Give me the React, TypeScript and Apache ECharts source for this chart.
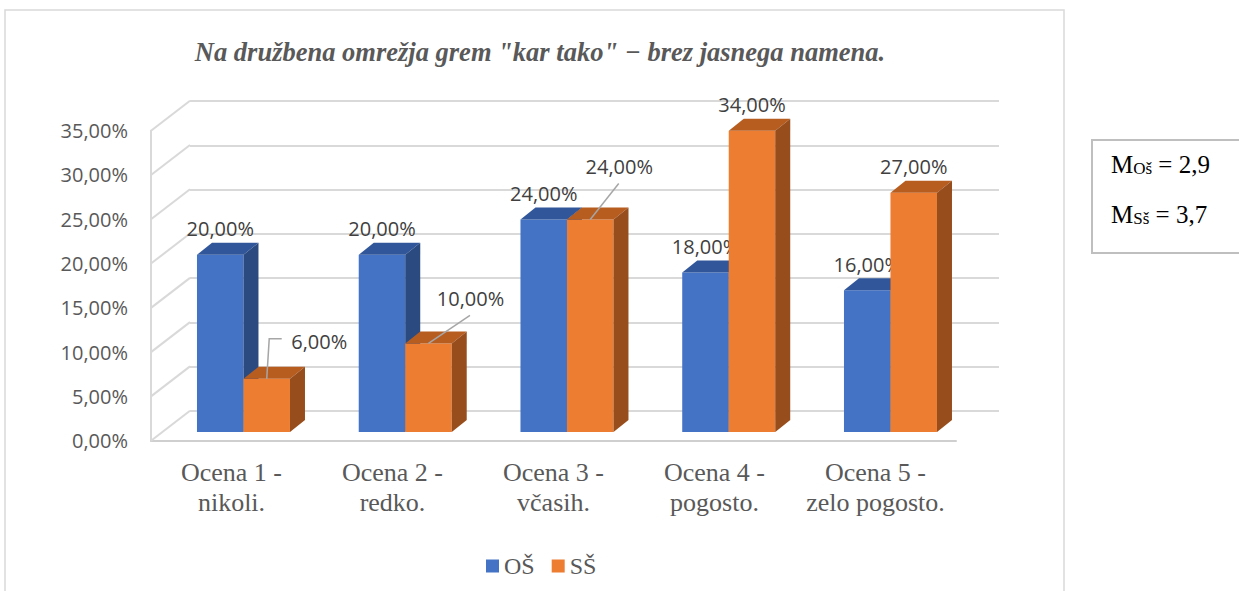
import React, { useEffect, useRef } from "react";
import * as echarts from "echarts";

const titleText = 'Na družbena omrežja grem "kar tako" \u2212 brez jasnega namena.';
const categories = [
  "Ocena 1 -\nnikoli.",
  "Ocena 2 -\nredko.",
  "Ocena 3 -\nvčasih.",
  "Ocena 4 -\npogosto.",
  "Ocena 5 -\nzelo pogosto.",
];
const seriesNames = ["OŠ", "SŠ"];
const osValues = [20, 20, 24, 18, 16];
const ssValues = [6, 10, 24, 34, 27];
const yTicks = [0, 5, 10, 15, 20, 25, 30, 35];
const meanOS = "2,9";
const meanSS = "3,7";

// styling / layout (not data)
const BAR_W = 46.5;
const DEPTH = [15, -12];
const WALL = [39, -30];
const LABEL_FONT = "'Open Sans', 'Noto Sans', sans-serif";
const SERIF = "'Liberation Serif', 'Times New Roman', serif";
const COLORS = [
  { front: "#4472C4", top: "#31579A", side: "#2A4A80" },
  { front: "#ED7D31", top: "#B85D20", side: "#984D1C" },
];
// custom label placements for SŠ (relative to front-top-centre of bar)
const ssLabelPlacement: any[] = [
  { pts: [[0, 0], [2.5, -40], [15, -40]], at: [52.5, -37] },
  { pts: [[0, 0], [41.5, -28]], at: [42, -45] },
  { pts: [[0, 0], [28.5, -36]], at: [29, -53] },
  null,
  null,
];

const fmt = (v: number) => v.toFixed(2).replace(".", ",") + "%";

function barRenderer(seriesIdx: number, placements: any[] | null) {
  return (params: any, api: any) => {
    const idx = api.value(0);
    const val = api.value(1);
    const top = api.coord([idx, val]);
    const base = api.coord([idx, 0]);
    const x0 = seriesIdx === 0 ? base[0] - BAR_W : base[0];
    const yT = top[1];
    const yB = base[1];
    const [dx, dy] = DEPTH;
    const c = COLORS[seriesIdx];
    const children: any[] = [
      {
        type: "rect",
        shape: { x: x0, y: yT, width: BAR_W, height: yB - yT },
        style: { fill: c.front },
      },
      {
        type: "polygon",
        shape: {
          points: [
            [x0, yT],
            [x0 + dx, yT + dy],
            [x0 + BAR_W + dx, yT + dy],
            [x0 + BAR_W, yT],
          ],
        },
        style: { fill: c.top },
      },
      {
        type: "polygon",
        shape: {
          points: [
            [x0 + BAR_W, yT],
            [x0 + BAR_W + dx, yT + dy],
            [x0 + BAR_W + dx, yB + dy],
            [x0 + BAR_W, yB],
          ],
        },
        style: { fill: c.side },
      },
    ];
    const fx = x0 + BAR_W / 2;
    const pl = placements ? placements[params.dataIndex] : null;
    let lx = fx;
    let ly = yT - 26;
    if (pl) {
      children.push({
        type: "polyline",
        shape: { points: pl.pts.map((p: number[]) => [fx + p[0], yT + p[1]]) },
        style: { stroke: "#A6A6A6", lineWidth: 1.5, fill: "none" },
        z2: 5,
      });
      lx = fx + pl.at[0];
      ly = yT + pl.at[1];
    }
    children.push({
      type: "text",
      x: lx,
      y: ly,
      z2: 10,
      style: {
        text: fmt(val),
        fill: "#404040",
        font: `20px ${LABEL_FONT}`,
        align: "center",
        verticalAlign: "middle",
      },
    });
    return { type: "group", children };
  };
}

export default function App() {
  const ref = useRef<HTMLDivElement>(null);
  useEffect(() => {
    if (!ref.current) return;
    const chart = echarts.init(ref.current, null, { renderer: "svg" });
    const gridLine = { color: "#D9D9D9", width: 2 };
    const meanRich = {
      m: { fontFamily: SERIF, fontSize: 25, lineHeight: 25, fill: "#000", verticalAlign: "bottom" },
      s: { fontFamily: SERIF, fontSize: 17, lineHeight: 19, fill: "#000", verticalAlign: "bottom" },
    };
    const option: any = {
      animation: false,
      backgroundColor: "#ffffff",
      title: {
        text: titleText,
        left: 535,
        top: 33,
        textAlign: "center",
        textStyle: {
          fontFamily: SERIF,
          fontStyle: "italic",
          fontWeight: "bold",
          fontSize: 26.5,
          color: "#595959",
        },
      },
      legend: {
        data: seriesNames,
        left: 481,
        top: 549,
        icon: "rect",
        itemWidth: 13,
        itemHeight: 13,
        itemGap: 17,
        textStyle: { fontFamily: SERIF, fontSize: 24, color: "#595959" },
      },
      grid: [
        { left: 162.6, width: 808.75, top: 122, height: 310 }, // bar plane
        { left: 151, width: 805, top: 130.7, height: 310 }, // front plane
        { left: 190, width: 809, top: 101, height: 310 }, // back wall
      ],
      xAxis: [
        { gridIndex: 0, type: "category", data: categories, show: false },
        {
          gridIndex: 1,
          type: "category",
          data: categories,
          axisTick: { show: false },
          axisLine: { show: true, lineStyle: { color: "#CFCFCF", width: 2 } },
          axisLabel: {
            margin: 17,
            fontFamily: SERIF,
            fontSize: 26,
            lineHeight: 30,
            color: "#595959",
            interval: 0,
          },
        },
        { gridIndex: 2, type: "category", data: categories, show: false },
      ],
      yAxis: [
        { gridIndex: 0, type: "value", min: 0, max: 35, interval: 5, show: false },
        {
          gridIndex: 1,
          type: "value",
          min: 0,
          max: 35,
          interval: 5,
          axisLine: { show: true, lineStyle: gridLine },
          axisTick: { show: false },
          splitLine: { show: false },
          axisLabel: {
            margin: 23,
            fontFamily: LABEL_FONT,
            fontSize: 20,
            color: "#595959",
            formatter: (v: number) => fmt(v),
          },
        },
        {
          gridIndex: 2,
          type: "value",
          min: 0,
          max: 35,
          interval: 5,
          axisLine: { show: false },
          axisTick: { show: false },
          axisLabel: { show: false },
          splitLine: { show: true, lineStyle: gridLine },
        },
      ],
      graphic: [
        {
          type: "rect",
          shape: { x: 5, y: 10, width: 1059, height: 620 },
          style: { fill: "none", stroke: "#D9D9D9", lineWidth: 1.5 },
          z: -10,
        },
        {
          type: "group",
          children: [
            {
              type: "rect",
              shape: { x: 1092, y: 140, width: 200, height: 113 },
              style: { fill: "#ffffff", stroke: "#BFBFBF", lineWidth: 2 },
            },
            {
              type: "text",
              x: 1111,
              y: 164,
              style: { text: `{m|M}{s|Oš}{m| = ${meanOS}}`, verticalAlign: "middle", rich: meanRich },
            },
            {
              type: "text",
              x: 1111,
              y: 214,
              style: { text: `{m|M}{s|Sš}{m| = ${meanSS}}`, verticalAlign: "middle", rich: meanRich },
            },
          ],
        },
      ],
      series: [
        {
          type: "custom",
          name: "walls",
          xAxisIndex: 1,
          yAxisIndex: 1,
          silent: true,
          data: yTicks.map((v) => [0, v]),
          renderItem: (params: any, api: any) => {
            const p = api.coord([0, api.value(1)]);
            const x = params.coordSys.x;
            return {
              type: "line",
              shape: { x1: x, y1: p[1], x2: x + WALL[0], y2: p[1] + WALL[1] },
              style: { stroke: "#D9D9D9", lineWidth: 2 },
            };
          },
          z: 1,
        },
        {
          type: "custom",
          name: seriesNames[0],
          xAxisIndex: 0,
          yAxisIndex: 0,
          itemStyle: { color: COLORS[0].front },
          data: osValues.map((v, i) => [i, v]),
          renderItem: barRenderer(0, null),
          z: 3,
        },
        {
          type: "custom",
          name: seriesNames[1],
          xAxisIndex: 0,
          yAxisIndex: 0,
          itemStyle: { color: COLORS[1].front },
          data: ssValues.map((v, i) => [i, v]),
          renderItem: barRenderer(1, ssLabelPlacement),
          z: 4,
        },
      ],
    };
    chart.setOption(option);
    return () => chart.dispose();
  }, []);
  return (
    <div
      ref={ref}
      style={{ position: "absolute", left: 0, top: 0, width: 1239, height: 591, background: "#fff" }}
    />
  );
}
